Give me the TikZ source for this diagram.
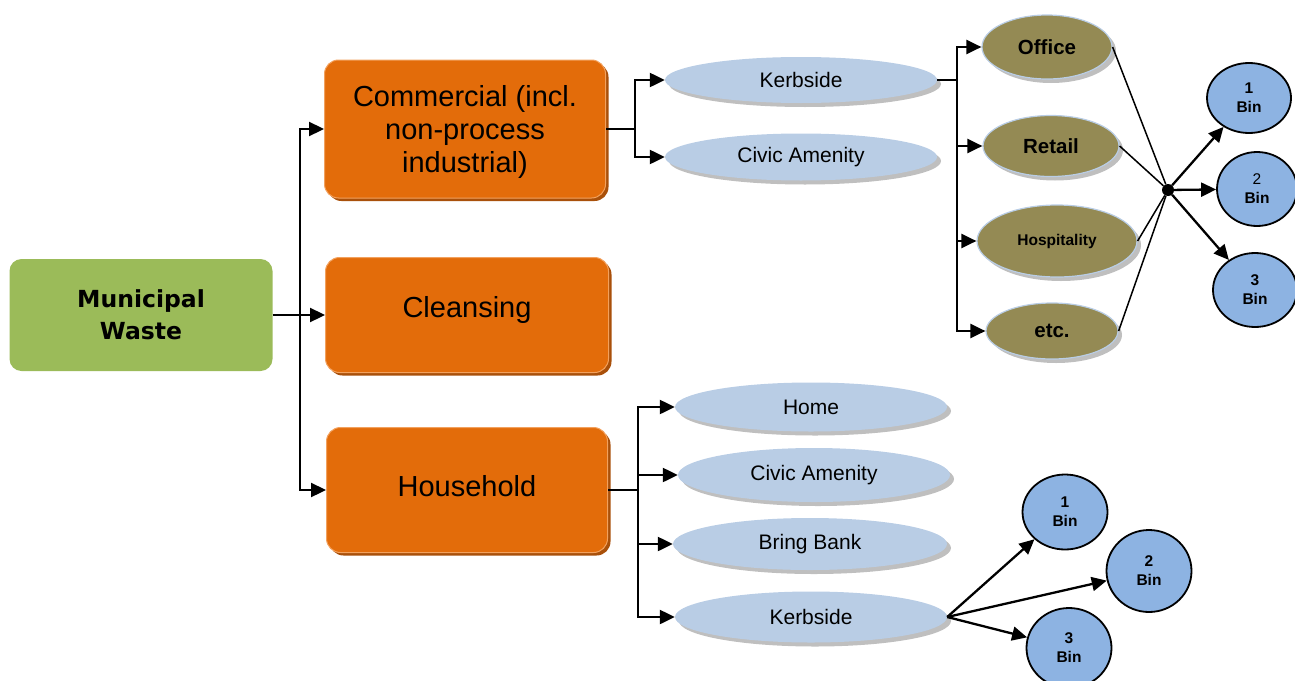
\documentclass[tikz,border=0pt]{standalone}
\usepackage{fontspec}
\setmainfont{Liberation Sans}
\newfontfamily\mwfont{DejaVu Sans}
\usetikzlibrary{shapes.geometric,shadows,arrows.meta}

\definecolor{greenC}{HTML}{9BBB59}
\definecolor{orangeC}{HTML}{E36C0A}
\definecolor{orangeL}{HTML}{F2A15E}
\definecolor{orangeD}{HTML}{A9500A}
\definecolor{blueL}{HTML}{B9CDE5}
\definecolor{oliveC}{HTML}{948A54}
\definecolor{binC}{HTML}{8DB3E2}
\definecolor{shadowC}{HTML}{BFBFBF}

% lower a label by #1 without changing the node's size
\newcommand{\dropto}[2]{\raisebox{#1}[0pt][0pt]{#2}}

\begin{document}
\begin{tikzpicture}[x=1pt,y=-1pt,
  rootbox/.style={rectangle, rounded corners=12pt, fill=greenC, inner sep=0,
    minimum width=263pt, minimum height=112pt, align=center,
    font=\mwfont\bfseries\fontsize{23.5}{32}\selectfont},
  mainbox/.style={rectangle, rounded corners=14pt, fill=orangeC, draw=orangeL,
    line width=1pt, inner sep=0, align=center,
    font=\fontsize{29}{33}\selectfont,
    drop shadow={shadow xshift=3pt, shadow yshift=-3pt, fill=orangeD, opacity=1}},
  srcell/.style={ellipse, fill=blueL, inner sep=0, minimum width=272pt,
    font=\fontsize{21}{25}\selectfont,
    drop shadow={shadow xshift=4pt, shadow yshift=-4pt, fill=shadowC, opacity=1}},
  sector/.style={ellipse, fill=oliveC, draw=blueL, line width=1.2pt, inner sep=0,
    font=\bfseries\fontsize{20.5}{24}\selectfont,
    drop shadow={shadow xshift=4pt, shadow yshift=-4pt, fill=shadowC, opacity=1}},
  bin/.style={ellipse, fill=binC, draw=black, line width=1.8pt, inner sep=0,
    align=center, font=\bfseries\fontsize{15.5}{19}\selectfont},
  conn/.style={line width=2.3pt},
  arr/.style={line width=2.3pt, -{Triangle[length=15pt,width=14pt]}},
  fine/.style={line width=1.5pt}
]
\useasboundingbox (0,0) rectangle (1295,680);

% main categories
\node[rootbox] (mw) at (141,315) {Municipal\\Waste};
\node[mainbox, minimum width=281pt, minimum height=138pt] (com) at (465,129)
  {\dropto{-9.7pt}{\begin{tabular}{@{}c@{}}Commercial (incl.\\non-process\\industrial)\end{tabular}}};
\node[mainbox, minimum width=283pt, minimum height=115pt] (cln) at (467,315)
  {\dropto{-2pt}{Cleansing}};
\node[mainbox, minimum width=281pt, minimum height=125pt] (hh) at (467,490)
  {\dropto{-6pt}{Household}};

% commercial collection routes
\node[srcell, minimum height=46pt] (ck) at (801,80) {Kerbside};
\node[srcell, minimum height=47pt] (cca) at (801,157) {Civic Amenity};

% commercial sectors
\node[sector, minimum width=130pt, minimum height=64pt] (off) at (1047,47) {Office};
\node[sector, minimum width=136pt, minimum height=61pt] (ret) at (1051,146) {Retail};
\node[sector, minimum width=160pt, minimum height=72pt,
  font=\bfseries\fontsize{15.5}{19}\selectfont] (hos) at (1057,241) {Hospitality};
\node[sector, minimum width=132pt, minimum height=56pt] (etc) at (1052,331) {etc.};

\node[circle, fill=black, inner sep=0, minimum size=12pt] (dot) at (1168,190) {};

% commercial bin options
\node[bin, minimum width=84pt, minimum height=70pt] (tb1) at (1249,98) {1\\Bin};
\node[bin, minimum width=80pt, minimum height=74pt] (tb2) at (1257,189)
  {{\mdseries 2}\\Bin};
\node[bin, minimum width=84pt, minimum height=74pt] (tb3) at (1255,290) {3\\Bin};

% household collection routes
\node[srcell, minimum height=49pt] (hhome) at (811,407) {Home};
\node[srcell, minimum height=54pt] (hca) at (814,475) {Civic Amenity};
\node[srcell, minimum width=274pt, minimum height=52pt] (hbb) at (810,544) {Bring Bank};
\node[srcell, minimum height=51pt] (hkb) at (811,617) {Kerbside};

% household bin options
\node[bin, minimum width=85pt, minimum height=75pt] (lb1) at (1065,512) {1\\Bin};
\node[bin, minimum width=85pt, minimum height=82pt] (lb2) at (1149,571) {2\\Bin};
\node[bin, minimum width=85pt, minimum height=80pt] (lb3) at (1069,648) {3\\Bin};

% connectors
\coordinate (j1) at (300,315);
\draw[conn] (mw.east) -- (j1);
\draw[arr] (j1) |- (com.west);
\draw[arr] (j1) -- (cln.west);
\draw[arr] (j1) |- (hh.west);

\coordinate (j2) at (635,129);
\draw[conn] (com.east) -- (j2);
\draw[arr] (j2) |- (ck.west);
\draw[arr] (j2) |- (cca.west);

\coordinate (j3) at (957,80);
\draw[conn] (ck.east) -- (j3);
\draw[arr] (j3) |- (off.west);
\draw[arr] (j3) |- (ret.west);
\draw[arr] (j3) |- (hos.west);
\draw[arr] (j3) |- (etc.west);

\draw[fine] (off.east) -- (dot);
\draw[fine] (ret.east) -- (dot);
\draw[fine] (hos.east) -- (dot);
\draw[fine] (etc.east) -- (dot);
\draw[arr] (dot) -- (tb1);
\draw[arr] (dot) -- (tb2);
\draw[arr] (dot) -- (tb3);

\coordinate (j4) at (638,490);
\draw[conn] (hh.east) -- (j4);
\draw[arr] (j4) |- (hhome.west);
\draw[arr] (j4) |- (hca.west);
\draw[arr] (j4) |- (hbb.west);
\draw[arr] (j4) |- (hkb.west);

\draw[arr] (hkb.east) -- (lb1);
\draw[arr] (hkb.east) -- (lb2);
\draw[arr] (hkb.east) -- (lb3);
\end{tikzpicture}
\end{document}
